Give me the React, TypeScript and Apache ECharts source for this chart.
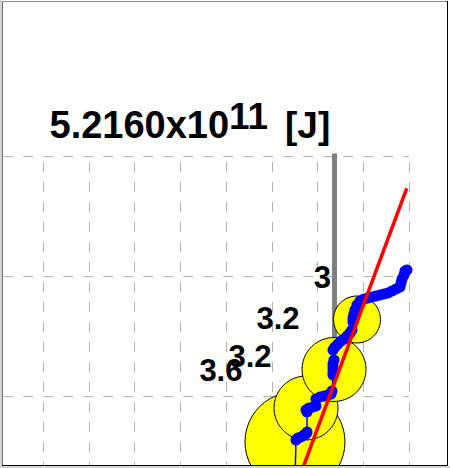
import React, { useEffect, useRef } from 'react';
import * as echarts from 'echarts';

// Axis ranges (chart units)
const xMax = 9;
const yMax = 3;

// Yellow bubbles (drawn bottom to top)
const circleX = [6.508, 6.749, 7.361, 7.863];
const circleY = [0.617, 0.9, 1.221, 1.6375];
const circleDiameter = [100, 64, 64, 47];
const circleLabels = ['3.6', '3.2', '3.2', '3'];

// Blue trajectory
const pathX = [
  6.508, 6.53, 6.574, 6.64, 6.705, 6.749,
  6.771, 6.771,
  6.749, 6.814, 6.902, 6.967,
  6.967, 7.055, 7.142, 7.23, 7.295,
  7.317, 7.339,
  7.339, 7.339, 7.339, 7.361,
  7.339, 7.383, 7.448, 7.514, 7.579, 7.645, 7.71, 7.754,
  7.776, 7.776, 7.798, 7.82, 7.863, 7.929, 8.016,
  8.104, 8.191, 8.279, 8.366, 8.454, 8.541, 8.628, 8.716, 8.803,
  8.825, 8.847, 8.891, 8.913, 8.956,
];
const pathY = [
  0.3, 0.633, 0.65, 0.658, 0.675, 0.683,
  0.7, 0.867,
  0.883, 0.9, 0.908, 0.917,
  0.975, 0.992, 1.0, 1.008, 1.017,
  1.042, 1.175,
  1.2, 1.233, 1.267, 1.3,
  1.383, 1.408, 1.433, 1.458, 1.475, 1.5, 1.525, 1.55,
  1.617, 1.65, 1.683, 1.717, 1.758, 1.792, 1.808,
  1.817, 1.825, 1.833, 1.842, 1.85, 1.858, 1.875, 1.892, 1.908,
  1.942, 1.975, 2.008, 2.042, 2.05,
];

// Red fit line
const fitX = [6.29, 8.95];
const fitY = [0, 2.731];

// Gray marker bar
const markerX = 7.372;
const markerTop = 3.033;

// Title
const titleMantissa = '5.2160x10';
const titleExponent = '11';
const titleUnit = '[J]';

const FONT = '"Liberation Sans", Arial, Helvetica, sans-serif';

export default function App() {
  const ref = useRef<HTMLDivElement>(null);
  useEffect(() => {
    document.body.style.margin = '0';
    const chart = echarts.init(ref.current!, null, { renderer: 'svg', width: 450, height: 468 });
    const splitStyle = { color: '#b4b4b4', width: 1, type: [10, 10], dashOffset: 14 };
    chart.setOption({
      animation: false,
      backgroundColor: '#ffffff',
      grid: { left: -2.75, top: 156, width: 411.75, height: 360, outerBoundsMode: 'none', containLabel: false },
      xAxis: {
        type: 'value', min: 0, max: xMax, interval: 1,
        axisLine: { show: false }, axisTick: { show: false }, axisLabel: { show: false },
        splitLine: { show: true, lineStyle: splitStyle },
      },
      yAxis: {
        type: 'value', min: 0, max: yMax, interval: 1,
        axisLine: { show: false }, axisTick: { show: false }, axisLabel: { show: false },
        splitLine: { show: true, lineStyle: splitStyle },
      },
      series: [
        {
          type: 'line',
          z: 1,
          data: [[markerX, 0], [markerX, markerTop]],
          symbol: 'none',
          lineStyle: { color: '#808080', width: 5 },
          silent: true,
        },
        {
          type: 'scatter',
          z: 3,
          data: circleX.map((x, i) => ({
            value: [x, circleY[i]],
            symbolSize: circleDiameter[i],
            label: { offset: [0, -((circleDiameter[i] / 2) * 1.1 + 16)] },
          })),
          itemStyle: { color: '#ffff00', borderColor: '#000000', borderWidth: 1, opacity: 1 },
          label: {
            show: true,
            position: 'left',
            distance: 2,
            formatter: (p: any) => circleLabels[p.dataIndex],
            fontSize: 31,
            fontWeight: 'bold',
            fontFamily: FONT,
            color: '#000000',
          },
          silent: true,
        },
        {
          type: 'line',
          z: 4,
          data: pathX.map((x, i) => [x, pathY[i]]),
          symbol: 'circle',
          symbolSize: 11,
          itemStyle: { color: '#0000ff', borderWidth: 0 },
          lineStyle: { color: '#0000ff', width: 1.5 },
          silent: true,
        },
        {
          type: 'line',
          z: 5,
          data: fitX.map((x, i) => [x, fitY[i]]),
          symbol: 'none',
          lineStyle: { color: '#ff0000', width: 3.5 },
          silent: true,
        },
      ],
      graphic: [
        { type: 'rect', z: 100, shape: { x: 0, y: 0, width: 2, height: 468 }, style: { fill: '#d4d4d4' } },
        { type: 'rect', z: 100, shape: { x: 0, y: 466, width: 450, height: 2 }, style: { fill: '#d4d4d4' } },
        { type: 'rect', z: 100, shape: { x: 448, y: 0, width: 2, height: 466 }, style: { fill: '#ffffff' } },
        { type: 'line', z: 101, shape: { x1: 2.5, y1: 1, x2: 2.5, y2: 466 }, style: { stroke: '#6e6e6e', lineWidth: 1 } },
        { type: 'line', z: 101, shape: { x1: 2, y1: 1.5, x2: 448, y2: 1.5 }, style: { stroke: '#8c8c8c', lineWidth: 1 } },
        { type: 'line', z: 101, shape: { x1: 447.5, y1: 1, x2: 447.5, y2: 466 }, style: { stroke: '#000000', lineWidth: 1 } },
        { type: 'line', z: 101, shape: { x1: 2, y1: 465.5, x2: 448, y2: 465.5 }, style: { stroke: '#000000', lineWidth: 1 } },
        {
          type: 'text', z: 102, x: 49.5, y: 125,
          style: { text: titleMantissa, fontSize: 38, fontWeight: 'bold', fontFamily: FONT, fill: '#000', align: 'left', verticalAlign: 'middle' },
        },
        {
          type: 'text', z: 102, x: 229, y: 116.5,
          style: { text: titleExponent, fontSize: 37, fontWeight: 'bold', fontFamily: FONT, fill: '#000', align: 'left', verticalAlign: 'middle' },
        },
        {
          type: 'text', z: 102, x: 285, y: 125,
          style: { text: titleUnit, fontSize: 37, fontWeight: 'bold', fontFamily: FONT, fill: '#000', align: 'left', verticalAlign: 'middle' },
        },
      ],
    });
    return () => chart.dispose();
  }, []);
  return <div ref={ref} style={{ width: 450, height: 468 }} />;
}
